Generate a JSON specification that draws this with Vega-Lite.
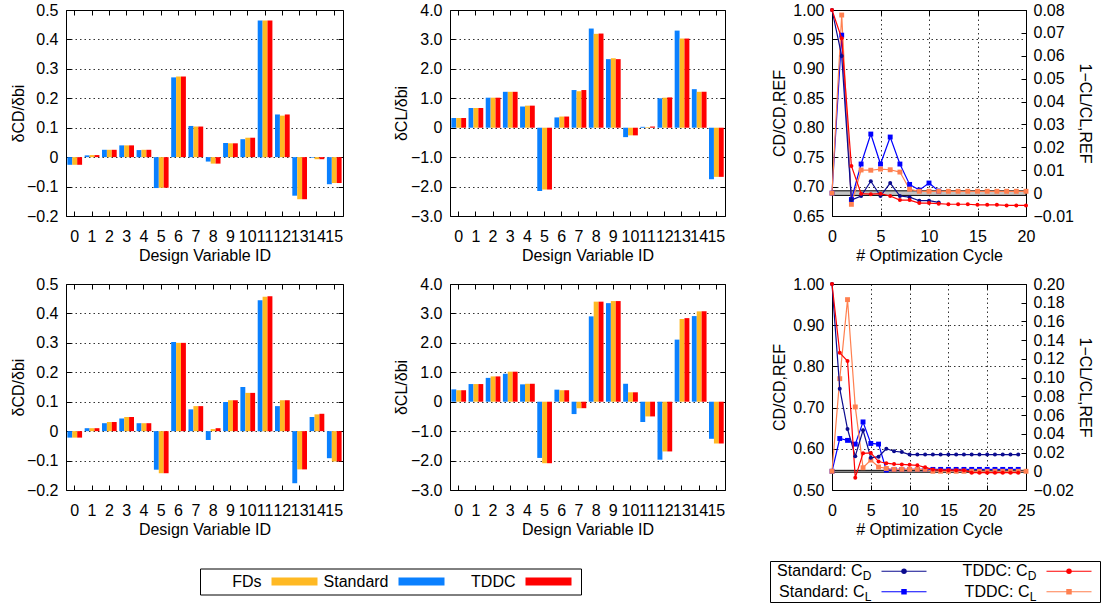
{
"$schema": "https://vega.github.io/schema/vega-lite/v6.json",
"background": "white",
"padding": {"left": 9, "top": 1, "right": 0, "bottom": 0},
"config": {
  "font": "Liberation Sans",
  "view": {"stroke": "black", "strokeWidth": 1},
  "axis": {"labelFont": "Liberation Sans", "titleFont": "Liberation Sans", "labelFontSize": 16, "titleFontSize": 16, "titleFontWeight": "normal", "labelColor": "black", "titleColor": "black", "domain": false, "tickColor": "black", "tickSize": -5, "tickWidth": 1, "grid": false, "gridColor": "black", "gridDash": [1.5, 3], "gridOpacity": 0.8, "gridWidth": 1, "labelPadding": 4, "labelOverlap": false, "labelBound": false, "labelFlush": false},
  "text": {"font": "Liberation Sans", "color": "black"}
},
"datasets": {
  "bars": [
    {"panel":"a","id":0,"method":"Standard","value":-0.026},{"panel":"a","id":0,"method":"FDs","value":-0.026},{"panel":"a","id":0,"method":"TDDC","value":-0.026},
    {"panel":"a","id":1,"method":"Standard","value":0.006},{"panel":"a","id":1,"method":"FDs","value":0.007},{"panel":"a","id":1,"method":"TDDC","value":0.007},
    {"panel":"a","id":2,"method":"Standard","value":0.025},{"panel":"a","id":2,"method":"FDs","value":0.025},{"panel":"a","id":2,"method":"TDDC","value":0.025},
    {"panel":"a","id":3,"method":"Standard","value":0.040},{"panel":"a","id":3,"method":"FDs","value":0.040},{"panel":"a","id":3,"method":"TDDC","value":0.040},
    {"panel":"a","id":4,"method":"Standard","value":0.024},{"panel":"a","id":4,"method":"FDs","value":0.025},{"panel":"a","id":4,"method":"TDDC","value":0.025},
    {"panel":"a","id":5,"method":"Standard","value":-0.105},{"panel":"a","id":5,"method":"FDs","value":-0.104},{"panel":"a","id":5,"method":"TDDC","value":-0.104},
    {"panel":"a","id":6,"method":"Standard","value":0.271},{"panel":"a","id":6,"method":"FDs","value":0.274},{"panel":"a","id":6,"method":"TDDC","value":0.274},
    {"panel":"a","id":7,"method":"Standard","value":0.106},{"panel":"a","id":7,"method":"FDs","value":0.104},{"panel":"a","id":7,"method":"TDDC","value":0.104},
    {"panel":"a","id":8,"method":"Standard","value":-0.015},{"panel":"a","id":8,"method":"FDs","value":-0.022},{"panel":"a","id":8,"method":"TDDC","value":-0.022},
    {"panel":"a","id":9,"method":"Standard","value":0.048},{"panel":"a","id":9,"method":"FDs","value":0.047},{"panel":"a","id":9,"method":"TDDC","value":0.047},
    {"panel":"a","id":10,"method":"Standard","value":0.061},{"panel":"a","id":10,"method":"FDs","value":0.066},{"panel":"a","id":10,"method":"TDDC","value":0.066},
    {"panel":"a","id":11,"method":"Standard","value":0.464},{"panel":"a","id":11,"method":"FDs","value":0.464},{"panel":"a","id":11,"method":"TDDC","value":0.464},
    {"panel":"a","id":12,"method":"Standard","value":0.145},{"panel":"a","id":12,"method":"FDs","value":0.141},{"panel":"a","id":12,"method":"TDDC","value":0.145},
    {"panel":"a","id":13,"method":"Standard","value":-0.131},{"panel":"a","id":13,"method":"FDs","value":-0.143},{"panel":"a","id":13,"method":"TDDC","value":-0.143},
    {"panel":"a","id":14,"method":"Standard","value":-0.002},{"panel":"a","id":14,"method":"FDs","value":-0.007},{"panel":"a","id":14,"method":"TDDC","value":-0.007},
    {"panel":"a","id":15,"method":"Standard","value":-0.092},{"panel":"a","id":15,"method":"FDs","value":-0.088},{"panel":"a","id":15,"method":"TDDC","value":-0.088},

    {"panel":"b","id":0,"method":"Standard","value":0.33},{"panel":"b","id":0,"method":"FDs","value":0.33},{"panel":"b","id":0,"method":"TDDC","value":0.33},
    {"panel":"b","id":1,"method":"Standard","value":0.67},{"panel":"b","id":1,"method":"FDs","value":0.67},{"panel":"b","id":1,"method":"TDDC","value":0.67},
    {"panel":"b","id":2,"method":"Standard","value":1.02},{"panel":"b","id":2,"method":"FDs","value":1.02},{"panel":"b","id":2,"method":"TDDC","value":1.02},
    {"panel":"b","id":3,"method":"Standard","value":1.22},{"panel":"b","id":3,"method":"FDs","value":1.22},{"panel":"b","id":3,"method":"TDDC","value":1.22},
    {"panel":"b","id":4,"method":"Standard","value":0.72},{"panel":"b","id":4,"method":"FDs","value":0.75},{"panel":"b","id":4,"method":"TDDC","value":0.75},
    {"panel":"b","id":5,"method":"Standard","value":-2.15},{"panel":"b","id":5,"method":"FDs","value":-2.10},{"panel":"b","id":5,"method":"TDDC","value":-2.10},
    {"panel":"b","id":6,"method":"Standard","value":0.35},{"panel":"b","id":6,"method":"FDs","value":0.38},{"panel":"b","id":6,"method":"TDDC","value":0.38},
    {"panel":"b","id":7,"method":"Standard","value":1.28},{"panel":"b","id":7,"method":"FDs","value":1.24},{"panel":"b","id":7,"method":"TDDC","value":1.28},
    {"panel":"b","id":8,"method":"Standard","value":3.37},{"panel":"b","id":8,"method":"FDs","value":3.19},{"panel":"b","id":8,"method":"TDDC","value":3.20},
    {"panel":"b","id":9,"method":"Standard","value":2.33},{"panel":"b","id":9,"method":"FDs","value":2.36},{"panel":"b","id":9,"method":"TDDC","value":2.33},
    {"panel":"b","id":10,"method":"Standard","value":-0.32},{"panel":"b","id":10,"method":"FDs","value":-0.26},{"panel":"b","id":10,"method":"TDDC","value":-0.26},
    {"panel":"b","id":11,"method":"Standard","value":0.03},{"panel":"b","id":11,"method":"FDs","value":0.02},{"panel":"b","id":11,"method":"TDDC","value":0.04},
    {"panel":"b","id":12,"method":"Standard","value":1.00},{"panel":"b","id":12,"method":"FDs","value":1.02},{"panel":"b","id":12,"method":"TDDC","value":1.03},
    {"panel":"b","id":13,"method":"Standard","value":3.30},{"panel":"b","id":13,"method":"FDs","value":3.03},{"panel":"b","id":13,"method":"TDDC","value":3.03},
    {"panel":"b","id":14,"method":"Standard","value":1.31},{"panel":"b","id":14,"method":"FDs","value":1.22},{"panel":"b","id":14,"method":"TDDC","value":1.22},
    {"panel":"b","id":15,"method":"Standard","value":-1.75},{"panel":"b","id":15,"method":"FDs","value":-1.67},{"panel":"b","id":15,"method":"TDDC","value":-1.67},

    {"panel":"c","id":0,"method":"Standard","value":-0.022},{"panel":"c","id":0,"method":"FDs","value":-0.022},{"panel":"c","id":0,"method":"TDDC","value":-0.022},
    {"panel":"c","id":1,"method":"Standard","value":0.010},{"panel":"c","id":1,"method":"FDs","value":0.010},{"panel":"c","id":1,"method":"TDDC","value":0.010},
    {"panel":"c","id":2,"method":"Standard","value":0.027},{"panel":"c","id":2,"method":"FDs","value":0.031},{"panel":"c","id":2,"method":"TDDC","value":0.031},
    {"panel":"c","id":3,"method":"Standard","value":0.043},{"panel":"c","id":3,"method":"FDs","value":0.048},{"panel":"c","id":3,"method":"TDDC","value":0.048},
    {"panel":"c","id":4,"method":"Standard","value":0.027},{"panel":"c","id":4,"method":"FDs","value":0.027},{"panel":"c","id":4,"method":"TDDC","value":0.027},
    {"panel":"c","id":5,"method":"Standard","value":-0.131},{"panel":"c","id":5,"method":"FDs","value":-0.143},{"panel":"c","id":5,"method":"TDDC","value":-0.143},
    {"panel":"c","id":6,"method":"Standard","value":0.303},{"panel":"c","id":6,"method":"FDs","value":0.300},{"panel":"c","id":6,"method":"TDDC","value":0.300},
    {"panel":"c","id":7,"method":"Standard","value":0.074},{"panel":"c","id":7,"method":"FDs","value":0.085},{"panel":"c","id":7,"method":"TDDC","value":0.085},
    {"panel":"c","id":8,"method":"Standard","value":-0.030},{"panel":"c","id":8,"method":"FDs","value":0.007},{"panel":"c","id":8,"method":"TDDC","value":0.010},
    {"panel":"c","id":9,"method":"Standard","value":0.099},{"panel":"c","id":9,"method":"FDs","value":0.105},{"panel":"c","id":9,"method":"TDDC","value":0.105},
    {"panel":"c","id":10,"method":"Standard","value":0.150},{"panel":"c","id":10,"method":"FDs","value":0.130},{"panel":"c","id":10,"method":"TDDC","value":0.130},
    {"panel":"c","id":11,"method":"Standard","value":0.445},{"panel":"c","id":11,"method":"FDs","value":0.457},{"panel":"c","id":11,"method":"TDDC","value":0.458},
    {"panel":"c","id":12,"method":"Standard","value":0.085},{"panel":"c","id":12,"method":"FDs","value":0.105},{"panel":"c","id":12,"method":"TDDC","value":0.105},
    {"panel":"c","id":13,"method":"Standard","value":-0.177},{"panel":"c","id":13,"method":"FDs","value":-0.130},{"panel":"c","id":13,"method":"TDDC","value":-0.130},
    {"panel":"c","id":14,"method":"Standard","value":0.048},{"panel":"c","id":14,"method":"FDs","value":0.057},{"panel":"c","id":14,"method":"TDDC","value":0.059},
    {"panel":"c","id":15,"method":"Standard","value":-0.092},{"panel":"c","id":15,"method":"FDs","value":-0.103},{"panel":"c","id":15,"method":"TDDC","value":-0.103},

    {"panel":"d","id":0,"method":"Standard","value":0.42},{"panel":"d","id":0,"method":"FDs","value":0.39},{"panel":"d","id":0,"method":"TDDC","value":0.39},
    {"panel":"d","id":1,"method":"Standard","value":0.60},{"panel":"d","id":1,"method":"FDs","value":0.60},{"panel":"d","id":1,"method":"TDDC","value":0.60},
    {"panel":"d","id":2,"method":"Standard","value":0.81},{"panel":"d","id":2,"method":"FDs","value":0.86},{"panel":"d","id":2,"method":"TDDC","value":0.86},
    {"panel":"d","id":3,"method":"Standard","value":0.95},{"panel":"d","id":3,"method":"FDs","value":1.02},{"panel":"d","id":3,"method":"TDDC","value":1.02},
    {"panel":"d","id":4,"method":"Standard","value":0.59},{"panel":"d","id":4,"method":"FDs","value":0.61},{"panel":"d","id":4,"method":"TDDC","value":0.61},
    {"panel":"d","id":5,"method":"Standard","value":-1.91},{"panel":"d","id":5,"method":"FDs","value":-2.09},{"panel":"d","id":5,"method":"TDDC","value":-2.09},
    {"panel":"d","id":6,"method":"Standard","value":0.41},{"panel":"d","id":6,"method":"FDs","value":0.39},{"panel":"d","id":6,"method":"TDDC","value":0.39},
    {"panel":"d","id":7,"method":"Standard","value":-0.42},{"panel":"d","id":7,"method":"FDs","value":-0.22},{"panel":"d","id":7,"method":"TDDC","value":-0.22},
    {"panel":"d","id":8,"method":"Standard","value":2.90},{"panel":"d","id":8,"method":"FDs","value":3.40},{"panel":"d","id":8,"method":"TDDC","value":3.40},
    {"panel":"d","id":9,"method":"Standard","value":3.35},{"panel":"d","id":9,"method":"FDs","value":3.42},{"panel":"d","id":9,"method":"TDDC","value":3.42},
    {"panel":"d","id":10,"method":"Standard","value":0.61},{"panel":"d","id":10,"method":"FDs","value":0.32},{"panel":"d","id":10,"method":"TDDC","value":0.32},
    {"panel":"d","id":11,"method":"Standard","value":-0.69},{"panel":"d","id":11,"method":"FDs","value":-0.50},{"panel":"d","id":11,"method":"TDDC","value":-0.50},
    {"panel":"d","id":12,"method":"Standard","value":-1.97},{"panel":"d","id":12,"method":"FDs","value":-1.69},{"panel":"d","id":12,"method":"TDDC","value":-1.69},
    {"panel":"d","id":13,"method":"Standard","value":2.11},{"panel":"d","id":13,"method":"FDs","value":2.81},{"panel":"d","id":13,"method":"TDDC","value":2.84},
    {"panel":"d","id":14,"method":"Standard","value":2.91},{"panel":"d","id":14,"method":"FDs","value":3.07},{"panel":"d","id":14,"method":"TDDC","value":3.07},
    {"panel":"d","id":15,"method":"Standard","value":-1.26},{"panel":"d","id":15,"method":"FDs","value":-1.42},{"panel":"d","id":15,"method":"TDDC","value":-1.42}
  ],
  "conv": [
    {"panel":"top","series":"Standard CD","qty":"CD","cycle":0,"value":1.000},{"panel":"top","series":"Standard CD","qty":"CD","cycle":1,"value":0.922},{"panel":"top","series":"Standard CD","qty":"CD","cycle":2,"value":0.677},{"panel":"top","series":"Standard CD","qty":"CD","cycle":3,"value":0.684},{"panel":"top","series":"Standard CD","qty":"CD","cycle":4,"value":0.709},{"panel":"top","series":"Standard CD","qty":"CD","cycle":5,"value":0.684},{"panel":"top","series":"Standard CD","qty":"CD","cycle":6,"value":0.706},{"panel":"top","series":"Standard CD","qty":"CD","cycle":7,"value":0.684},{"panel":"top","series":"Standard CD","qty":"CD","cycle":8,"value":0.682},{"panel":"top","series":"Standard CD","qty":"CD","cycle":9,"value":0.676},{"panel":"top","series":"Standard CD","qty":"CD","cycle":10,"value":0.676},{"panel":"top","series":"Standard CD","qty":"CD","cycle":11,"value":0.673},
    {"panel":"top","series":"TDDC CD","qty":"CD","cycle":0,"value":1.000},{"panel":"top","series":"TDDC CD","qty":"CD","cycle":1,"value":0.952},{"panel":"top","series":"TDDC CD","qty":"CD","cycle":2,"value":0.735},{"panel":"top","series":"TDDC CD","qty":"CD","cycle":3,"value":0.688},{"panel":"top","series":"TDDC CD","qty":"CD","cycle":4,"value":0.687},{"panel":"top","series":"TDDC CD","qty":"CD","cycle":5,"value":0.688},{"panel":"top","series":"TDDC CD","qty":"CD","cycle":6,"value":0.684},{"panel":"top","series":"TDDC CD","qty":"CD","cycle":7,"value":0.677},{"panel":"top","series":"TDDC CD","qty":"CD","cycle":8,"value":0.677},{"panel":"top","series":"TDDC CD","qty":"CD","cycle":9,"value":0.672},{"panel":"top","series":"TDDC CD","qty":"CD","cycle":10,"value":0.672},{"panel":"top","series":"TDDC CD","qty":"CD","cycle":11,"value":0.671},{"panel":"top","series":"TDDC CD","qty":"CD","cycle":12,"value":0.670},{"panel":"top","series":"TDDC CD","qty":"CD","cycle":13,"value":0.670},{"panel":"top","series":"TDDC CD","qty":"CD","cycle":14,"value":0.670},{"panel":"top","series":"TDDC CD","qty":"CD","cycle":15,"value":0.669},{"panel":"top","series":"TDDC CD","qty":"CD","cycle":16,"value":0.669},{"panel":"top","series":"TDDC CD","qty":"CD","cycle":17,"value":0.669},{"panel":"top","series":"TDDC CD","qty":"CD","cycle":18,"value":0.668},{"panel":"top","series":"TDDC CD","qty":"CD","cycle":19,"value":0.668},{"panel":"top","series":"TDDC CD","qty":"CD","cycle":20,"value":0.668},
    {"panel":"top","series":"Standard CL","qty":"CL","cycle":0,"value":0.0},{"panel":"top","series":"Standard CL","qty":"CL","cycle":1,"value":0.069},{"panel":"top","series":"Standard CL","qty":"CL","cycle":2,"value":-0.0028},{"panel":"top","series":"Standard CL","qty":"CL","cycle":3,"value":0.0127},{"panel":"top","series":"Standard CL","qty":"CL","cycle":4,"value":0.0258},{"panel":"top","series":"Standard CL","qty":"CL","cycle":5,"value":0.0127},{"panel":"top","series":"Standard CL","qty":"CL","cycle":6,"value":0.0245},{"panel":"top","series":"Standard CL","qty":"CL","cycle":7,"value":0.0127},{"panel":"top","series":"Standard CL","qty":"CL","cycle":8,"value":0.0038},{"panel":"top","series":"Standard CL","qty":"CL","cycle":9,"value":0.0013},{"panel":"top","series":"Standard CL","qty":"CL","cycle":10,"value":0.0044},{"panel":"top","series":"Standard CL","qty":"CL","cycle":11,"value":0.0009},
    {"panel":"top","series":"TDDC CL","qty":"CL","cycle":0,"value":0.0},{"panel":"top","series":"TDDC CL","qty":"CL","cycle":1,"value":0.0778},{"panel":"top","series":"TDDC CL","qty":"CL","cycle":2,"value":-0.0049},{"panel":"top","series":"TDDC CL","qty":"CL","cycle":3,"value":0.0101},{"panel":"top","series":"TDDC CL","qty":"CL","cycle":4,"value":0.0100},{"panel":"top","series":"TDDC CL","qty":"CL","cycle":5,"value":0.0105},{"panel":"top","series":"TDDC CL","qty":"CL","cycle":6,"value":0.0102},{"panel":"top","series":"TDDC CL","qty":"CL","cycle":7,"value":0.0092},{"panel":"top","series":"TDDC CL","qty":"CL","cycle":8,"value":0.0017},{"panel":"top","series":"TDDC CL","qty":"CL","cycle":9,"value":0.0008},{"panel":"top","series":"TDDC CL","qty":"CL","cycle":10,"value":0.0008},{"panel":"top","series":"TDDC CL","qty":"CL","cycle":11,"value":0.0008},{"panel":"top","series":"TDDC CL","qty":"CL","cycle":12,"value":0.0008},{"panel":"top","series":"TDDC CL","qty":"CL","cycle":13,"value":0.0008},{"panel":"top","series":"TDDC CL","qty":"CL","cycle":14,"value":0.0008},{"panel":"top","series":"TDDC CL","qty":"CL","cycle":15,"value":0.0008},{"panel":"top","series":"TDDC CL","qty":"CL","cycle":16,"value":0.0008},{"panel":"top","series":"TDDC CL","qty":"CL","cycle":17,"value":0.0008},{"panel":"top","series":"TDDC CL","qty":"CL","cycle":18,"value":0.0008},{"panel":"top","series":"TDDC CL","qty":"CL","cycle":19,"value":0.0008},{"panel":"top","series":"TDDC CL","qty":"CL","cycle":20,"value":0.0008},

    {"panel":"bottom","series":"Standard CD","qty":"CD","cycle":0,"value":1.000},{"panel":"bottom","series":"Standard CD","qty":"CD","cycle":1,"value":0.746},{"panel":"bottom","series":"Standard CD","qty":"CD","cycle":2,"value":0.648},{"panel":"bottom","series":"Standard CD","qty":"CD","cycle":3,"value":0.582},{"panel":"bottom","series":"Standard CD","qty":"CD","cycle":4,"value":0.645},{"panel":"bottom","series":"Standard CD","qty":"CD","cycle":5,"value":0.578},{"panel":"bottom","series":"Standard CD","qty":"CD","cycle":6,"value":0.581},{"panel":"bottom","series":"Standard CD","qty":"CD","cycle":7,"value":0.600},{"panel":"bottom","series":"Standard CD","qty":"CD","cycle":8,"value":0.594},{"panel":"bottom","series":"Standard CD","qty":"CD","cycle":9,"value":0.592},{"panel":"bottom","series":"Standard CD","qty":"CD","cycle":10,"value":0.586},{"panel":"bottom","series":"Standard CD","qty":"CD","cycle":11,"value":0.586},{"panel":"bottom","series":"Standard CD","qty":"CD","cycle":12,"value":0.586},{"panel":"bottom","series":"Standard CD","qty":"CD","cycle":13,"value":0.586},{"panel":"bottom","series":"Standard CD","qty":"CD","cycle":14,"value":0.586},{"panel":"bottom","series":"Standard CD","qty":"CD","cycle":15,"value":0.586},{"panel":"bottom","series":"Standard CD","qty":"CD","cycle":16,"value":0.586},{"panel":"bottom","series":"Standard CD","qty":"CD","cycle":17,"value":0.586},{"panel":"bottom","series":"Standard CD","qty":"CD","cycle":18,"value":0.586},{"panel":"bottom","series":"Standard CD","qty":"CD","cycle":19,"value":0.586},{"panel":"bottom","series":"Standard CD","qty":"CD","cycle":20,"value":0.586},{"panel":"bottom","series":"Standard CD","qty":"CD","cycle":21,"value":0.586},{"panel":"bottom","series":"Standard CD","qty":"CD","cycle":22,"value":0.586},{"panel":"bottom","series":"Standard CD","qty":"CD","cycle":23,"value":0.586},{"panel":"bottom","series":"Standard CD","qty":"CD","cycle":24,"value":0.586},
    {"panel":"bottom","series":"TDDC CD","qty":"CD","cycle":0,"value":1.000},{"panel":"bottom","series":"TDDC CD","qty":"CD","cycle":1,"value":0.833},{"panel":"bottom","series":"TDDC CD","qty":"CD","cycle":2,"value":0.813},{"panel":"bottom","series":"TDDC CD","qty":"CD","cycle":3,"value":0.530},{"panel":"bottom","series":"TDDC CD","qty":"CD","cycle":4,"value":0.589},{"panel":"bottom","series":"TDDC CD","qty":"CD","cycle":5,"value":0.590},{"panel":"bottom","series":"TDDC CD","qty":"CD","cycle":6,"value":0.569},{"panel":"bottom","series":"TDDC CD","qty":"CD","cycle":7,"value":0.565},{"panel":"bottom","series":"TDDC CD","qty":"CD","cycle":8,"value":0.563},{"panel":"bottom","series":"TDDC CD","qty":"CD","cycle":9,"value":0.562},{"panel":"bottom","series":"TDDC CD","qty":"CD","cycle":10,"value":0.561},{"panel":"bottom","series":"TDDC CD","qty":"CD","cycle":11,"value":0.560},{"panel":"bottom","series":"TDDC CD","qty":"CD","cycle":12,"value":0.555},{"panel":"bottom","series":"TDDC CD","qty":"CD","cycle":13,"value":0.550},{"panel":"bottom","series":"TDDC CD","qty":"CD","cycle":14,"value":0.548},{"panel":"bottom","series":"TDDC CD","qty":"CD","cycle":15,"value":0.548},{"panel":"bottom","series":"TDDC CD","qty":"CD","cycle":16,"value":0.548},{"panel":"bottom","series":"TDDC CD","qty":"CD","cycle":17,"value":0.548},{"panel":"bottom","series":"TDDC CD","qty":"CD","cycle":18,"value":0.542},{"panel":"bottom","series":"TDDC CD","qty":"CD","cycle":19,"value":0.542},{"panel":"bottom","series":"TDDC CD","qty":"CD","cycle":20,"value":0.542},{"panel":"bottom","series":"TDDC CD","qty":"CD","cycle":21,"value":0.542},{"panel":"bottom","series":"TDDC CD","qty":"CD","cycle":22,"value":0.542},{"panel":"bottom","series":"TDDC CD","qty":"CD","cycle":23,"value":0.542},{"panel":"bottom","series":"TDDC CD","qty":"CD","cycle":24,"value":0.542},
    {"panel":"bottom","series":"Standard CL","qty":"CL","cycle":0,"value":0.0},{"panel":"bottom","series":"Standard CL","qty":"CL","cycle":1,"value":0.035},{"panel":"bottom","series":"Standard CL","qty":"CL","cycle":2,"value":0.033},{"panel":"bottom","series":"Standard CL","qty":"CL","cycle":3,"value":0.029},{"panel":"bottom","series":"Standard CL","qty":"CL","cycle":4,"value":0.0527},{"panel":"bottom","series":"Standard CL","qty":"CL","cycle":5,"value":0.0297},{"panel":"bottom","series":"Standard CL","qty":"CL","cycle":6,"value":0.029},{"panel":"bottom","series":"Standard CL","qty":"CL","cycle":7,"value":0.0013},{"panel":"bottom","series":"Standard CL","qty":"CL","cycle":8,"value":0.002},{"panel":"bottom","series":"Standard CL","qty":"CL","cycle":9,"value":0.002},{"panel":"bottom","series":"Standard CL","qty":"CL","cycle":10,"value":0.002},{"panel":"bottom","series":"Standard CL","qty":"CL","cycle":11,"value":0.002},{"panel":"bottom","series":"Standard CL","qty":"CL","cycle":12,"value":0.002},{"panel":"bottom","series":"Standard CL","qty":"CL","cycle":13,"value":0.002},{"panel":"bottom","series":"Standard CL","qty":"CL","cycle":14,"value":0.002},{"panel":"bottom","series":"Standard CL","qty":"CL","cycle":15,"value":0.002},{"panel":"bottom","series":"Standard CL","qty":"CL","cycle":16,"value":0.002},{"panel":"bottom","series":"Standard CL","qty":"CL","cycle":17,"value":0.002},{"panel":"bottom","series":"Standard CL","qty":"CL","cycle":18,"value":0.002},{"panel":"bottom","series":"Standard CL","qty":"CL","cycle":19,"value":0.002},{"panel":"bottom","series":"Standard CL","qty":"CL","cycle":20,"value":0.002},{"panel":"bottom","series":"Standard CL","qty":"CL","cycle":21,"value":0.002},{"panel":"bottom","series":"Standard CL","qty":"CL","cycle":22,"value":0.002},{"panel":"bottom","series":"Standard CL","qty":"CL","cycle":23,"value":0.002},{"panel":"bottom","series":"Standard CL","qty":"CL","cycle":24,"value":0.002},
    {"panel":"bottom","series":"TDDC CL","qty":"CL","cycle":0,"value":0.0},{"panel":"bottom","series":"TDDC CL","qty":"CL","cycle":1,"value":0.0989},{"panel":"bottom","series":"TDDC CL","qty":"CL","cycle":2,"value":0.1833},{"panel":"bottom","series":"TDDC CL","qty":"CL","cycle":3,"value":0.0687},{"panel":"bottom","series":"TDDC CL","qty":"CL","cycle":4,"value":0.0038},{"panel":"bottom","series":"TDDC CL","qty":"CL","cycle":5,"value":0.012},{"panel":"bottom","series":"TDDC CL","qty":"CL","cycle":6,"value":0.0045},{"panel":"bottom","series":"TDDC CL","qty":"CL","cycle":7,"value":0.003},{"panel":"bottom","series":"TDDC CL","qty":"CL","cycle":8,"value":0.002},{"panel":"bottom","series":"TDDC CL","qty":"CL","cycle":9,"value":0.002},{"panel":"bottom","series":"TDDC CL","qty":"CL","cycle":10,"value":0.002},{"panel":"bottom","series":"TDDC CL","qty":"CL","cycle":11,"value":0.002},{"panel":"bottom","series":"TDDC CL","qty":"CL","cycle":12,"value":0.002},{"panel":"bottom","series":"TDDC CL","qty":"CL","cycle":13,"value":0.0},{"panel":"bottom","series":"TDDC CL","qty":"CL","cycle":14,"value":0.0},{"panel":"bottom","series":"TDDC CL","qty":"CL","cycle":15,"value":0.0},{"panel":"bottom","series":"TDDC CL","qty":"CL","cycle":16,"value":0.0},{"panel":"bottom","series":"TDDC CL","qty":"CL","cycle":17,"value":0.0},{"panel":"bottom","series":"TDDC CL","qty":"CL","cycle":18,"value":0.0},{"panel":"bottom","series":"TDDC CL","qty":"CL","cycle":19,"value":0.0},{"panel":"bottom","series":"TDDC CL","qty":"CL","cycle":20,"value":0.0},{"panel":"bottom","series":"TDDC CL","qty":"CL","cycle":21,"value":0.0},{"panel":"bottom","series":"TDDC CL","qty":"CL","cycle":22,"value":0.0},{"panel":"bottom","series":"TDDC CL","qty":"CL","cycle":23,"value":0.0},{"panel":"bottom","series":"TDDC CL","qty":"CL","cycle":24,"value":0.0},{"panel":"bottom","series":"TDDC CL","qty":"CL","cycle":25,"value":0.0}
  ],
  "bandtop": [{"value": -0.001, "value2": 0.001, "cycle": 0, "cycle2": 20}],
  "bandbottom": [{"value": -0.001, "value2": 0.001, "cycle": 0, "cycle2": 25}],
  "legend1": [{"method": "FDs"}, {"method": "Standard"}, {"method": "TDDC"}],
  "legend2": [
    {"run": "Standard", "qty": "CD", "series": "Standard CD", "label": "Standard: C", "sub": "D"},
    {"run": "Standard", "qty": "CL", "series": "Standard CL", "label": "Standard: C", "sub": "L"},
    {"run": "TDDC", "qty": "CD", "series": "TDDC CD", "label": "TDDC: C", "sub": "D"},
    {"run": "TDDC", "qty": "CL", "series": "TDDC CL", "label": "TDDC: C", "sub": "L"}
  ],
  "blank": [{"k": 0}]
},
"spacing": 11,
"resolve": {"scale": {"color": "independent", "shape": "independent"}},
"vconcat": [
  {"hconcat": [
    {"width": 277, "height": 206, "data": {"name": "bars"}, "transform": [{"filter": "datum.panel === 'a'"}],
     "layer": [
      {"mark": {"type": "bar"}, "encoding": {
        "x": {"field": "id", "type": "ordinal", "scale": {"paddingInner": 0.15, "paddingOuter": 0.08}, "axis": {"orient": "bottom", "title": "Design Variable ID", "labelAngle": 0, "labelPadding": 17, "titlePadding": 3}},
        "xOffset": {"field": "method", "type": "nominal", "sort": ["Standard", "FDs", "TDDC"], "scale": {"paddingInner": 0, "paddingOuter": 0}},
        "y": {"field": "value", "type": "quantitative", "stack": null, "scale": {"domain": [-0.2, 0.5], "nice": false}, "axis": {"orient": "left", "values": [-0.2, -0.1, 0, 0.1, 0.2, 0.3, 0.4, 0.5], "grid": true, "title": "δCD/δbi", "labelExpr": "datum.value === 0 ? '0' : format(datum.value, '.1f')", "labelPadding": 13, "titlePadding": 0}},
        "color": {"field": "method", "type": "nominal", "scale": {"domain": ["FDs", "Standard", "TDDC"], "range": ["#ffb923", "#0a80ff", "#ff0000"]}, "legend": null}}},
      {"mark": {"type": "bar", "opacity": 0}, "encoding": {
        "x": {"field": "id", "type": "ordinal", "axis": {"orient": "top", "labels": false, "title": null}},
        "y": {"field": "value", "type": "quantitative", "stack": null, "axis": {"orient": "right", "labels": false, "title": null, "values": [-0.2, -0.1, 0, 0.1, 0.2, 0.3, 0.4, 0.5]}}}}
     ]},
    {"width": 275, "height": 206, "data": {"name": "bars"}, "transform": [{"filter": "datum.panel === 'b'"}],
     "layer": [
      {"mark": {"type": "bar"}, "encoding": {
        "x": {"field": "id", "type": "ordinal", "scale": {"paddingInner": 0.15, "paddingOuter": 0.08}, "axis": {"orient": "bottom", "title": "Design Variable ID", "labelAngle": 0, "labelPadding": 17, "titlePadding": 3}},
        "xOffset": {"field": "method", "type": "nominal", "sort": ["Standard", "FDs", "TDDC"], "scale": {"paddingInner": 0, "paddingOuter": 0}},
        "y": {"field": "value", "type": "quantitative", "stack": null, "scale": {"domain": [-3, 4], "nice": false}, "axis": {"orient": "left", "values": [-3, -2, -1, 0, 1, 2, 3, 4], "grid": true, "title": "δCL/δbi", "labelExpr": "datum.value === 0 ? '0' : format(datum.value, '.1f')", "labelPadding": 13, "titlePadding": 1}},
        "color": {"field": "method", "type": "nominal", "scale": {"domain": ["FDs", "Standard", "TDDC"], "range": ["#ffb923", "#0a80ff", "#ff0000"]}, "legend": null}}},
      {"mark": {"type": "bar", "opacity": 0}, "encoding": {
        "x": {"field": "id", "type": "ordinal", "axis": {"orient": "top", "labels": false, "title": null}},
        "y": {"field": "value", "type": "quantitative", "stack": null, "axis": {"orient": "right", "labels": false, "title": null, "values": [-3, -2, -1, 0, 1, 2, 3, 4]}}}}
     ]},
    {"width": 194, "height": 206,
     "layer": [
      {"encoding": {"y": {"field": "value", "type": "quantitative", "scale": {"domain": [-0.01, 0.08], "nice": false, "zero": false}, "axis": {"orient": "right", "title": "1−CL/CL,REF", "values": [-0.01, 0, 0.01, 0.02, 0.03, 0.04, 0.05, 0.06, 0.07, 0.08], "labelExpr": "datum.value === 0 ? '0' : format(datum.value, '.2f')", "labelPadding": 12, "titlePadding": 3}}},
       "layer": [
        {"data": {"name": "bandtop"}, "mark": {"type": "rect", "fill": "#c4c4c4", "stroke": "black", "strokeWidth": 1}, "encoding": {"x": {"field": "cycle", "type": "quantitative"}, "x2": {"field": "cycle2"}, "y2": {"field": "value2"}}},
        {"data": {"name": "conv"}, "transform": [{"filter": "datum.panel === 'top' && datum.qty === 'CL'"}], "mark": {"type": "line", "strokeWidth": 1.2},
         "encoding": {"x": {"field": "cycle", "type": "quantitative", "scale": {"domain": [0, 20], "nice": false}, "axis": {"orient": "top", "values": [0, 5, 10, 15, 20], "labels": false, "title": null}},
                      "color": {"field": "series", "type": "nominal", "scale": {"domain": ["Standard CD", "Standard CL", "TDDC CD", "TDDC CL"], "range": ["#0b0b8f", "#0000ff", "#ff0000", "#ff8050"]}, "legend": null}}},
        {"data": {"name": "conv"}, "transform": [{"filter": "datum.panel === 'top' && datum.qty === 'CL'"}], "mark": {"type": "point", "shape": "square", "filled": true, "size": 24, "opacity": 1},
         "encoding": {"x": {"field": "cycle", "type": "quantitative", "axis": {"orient": "top", "values": [0, 5, 10, 15, 20], "labels": false, "title": null}},
                      "color": {"field": "series", "type": "nominal", "scale": {"domain": ["Standard CD", "Standard CL", "TDDC CD", "TDDC CL"], "range": ["#0b0b8f", "#0000ff", "#ff0000", "#ff8050"]}, "legend": null}}}
       ]},
      {"data": {"name": "conv"}, "transform": [{"filter": "datum.panel === 'top' && datum.qty === 'CD'"}],
       "encoding": {
         "x": {"field": "cycle", "type": "quantitative", "scale": {"domain": [0, 20], "nice": false}, "axis": {"orient": "bottom", "values": [0, 5, 10, 15, 20], "grid": true, "title": "# Optimization Cycle", "format": "d", "labelPadding": 17, "titlePadding": 3}},
         "y": {"field": "value", "type": "quantitative", "scale": {"domain": [0.65, 1.0], "nice": false, "zero": false}, "axis": {"orient": "left", "title": "CD/CD,REF", "values": [0.65, 0.7, 0.75, 0.8, 0.85, 0.9, 0.95, 1.0], "format": ".2f", "grid": true, "labelPadding": 13, "titlePadding": 5}},
         "color": {"field": "series", "type": "nominal", "scale": {"domain": ["Standard CD", "Standard CL", "TDDC CD", "TDDC CL"], "range": ["#0b0b8f", "#0000ff", "#ff0000", "#ff8050"]}, "legend": null}},
       "layer": [
        {"mark": {"type": "line", "strokeWidth": 1.2}},
        {"mark": {"type": "point", "shape": "circle", "filled": true, "size": 16, "opacity": 1}}
       ]}
     ],
     "resolve": {"scale": {"y": "independent"}}}
  ], "spacing": 107, "bounds": "flush", "resolve": {"scale": {"color": "independent"}}},
  {"hconcat": [
    {"width": 277, "height": 206, "data": {"name": "bars"}, "transform": [{"filter": "datum.panel === 'c'"}],
     "layer": [
      {"mark": {"type": "bar"}, "encoding": {
        "x": {"field": "id", "type": "ordinal", "scale": {"paddingInner": 0.15, "paddingOuter": 0.08}, "axis": {"orient": "bottom", "title": "Design Variable ID", "labelAngle": 0, "labelPadding": 17, "titlePadding": 3}},
        "xOffset": {"field": "method", "type": "nominal", "sort": ["Standard", "FDs", "TDDC"], "scale": {"paddingInner": 0, "paddingOuter": 0}},
        "y": {"field": "value", "type": "quantitative", "stack": null, "scale": {"domain": [-0.2, 0.5], "nice": false}, "axis": {"orient": "left", "values": [-0.2, -0.1, 0, 0.1, 0.2, 0.3, 0.4, 0.5], "grid": true, "title": "δCD/δbi", "labelExpr": "datum.value === 0 ? '0' : format(datum.value, '.1f')", "labelPadding": 13, "titlePadding": 0}},
        "color": {"field": "method", "type": "nominal", "scale": {"domain": ["FDs", "Standard", "TDDC"], "range": ["#ffb923", "#0a80ff", "#ff0000"]}, "legend": null}}},
      {"mark": {"type": "bar", "opacity": 0}, "encoding": {
        "x": {"field": "id", "type": "ordinal", "axis": {"orient": "top", "labels": false, "title": null}},
        "y": {"field": "value", "type": "quantitative", "stack": null, "axis": {"orient": "right", "labels": false, "title": null, "values": [-0.2, -0.1, 0, 0.1, 0.2, 0.3, 0.4, 0.5]}}}}
     ]},
    {"width": 275, "height": 206, "data": {"name": "bars"}, "transform": [{"filter": "datum.panel === 'd'"}],
     "layer": [
      {"mark": {"type": "bar"}, "encoding": {
        "x": {"field": "id", "type": "ordinal", "scale": {"paddingInner": 0.15, "paddingOuter": 0.08}, "axis": {"orient": "bottom", "title": "Design Variable ID", "labelAngle": 0, "labelPadding": 17, "titlePadding": 3}},
        "xOffset": {"field": "method", "type": "nominal", "sort": ["Standard", "FDs", "TDDC"], "scale": {"paddingInner": 0, "paddingOuter": 0}},
        "y": {"field": "value", "type": "quantitative", "stack": null, "scale": {"domain": [-3, 4], "nice": false}, "axis": {"orient": "left", "values": [-3, -2, -1, 0, 1, 2, 3, 4], "grid": true, "title": "δCL/δbi", "labelExpr": "datum.value === 0 ? '0' : format(datum.value, '.1f')", "labelPadding": 13, "titlePadding": 1}},
        "color": {"field": "method", "type": "nominal", "scale": {"domain": ["FDs", "Standard", "TDDC"], "range": ["#ffb923", "#0a80ff", "#ff0000"]}, "legend": null}}},
      {"mark": {"type": "bar", "opacity": 0}, "encoding": {
        "x": {"field": "id", "type": "ordinal", "axis": {"orient": "top", "labels": false, "title": null}},
        "y": {"field": "value", "type": "quantitative", "stack": null, "axis": {"orient": "right", "labels": false, "title": null, "values": [-3, -2, -1, 0, 1, 2, 3, 4]}}}}
     ]},
    {"width": 194, "height": 206,
     "layer": [
      {"encoding": {"y": {"field": "value", "type": "quantitative", "scale": {"domain": [-0.02, 0.2], "nice": false, "zero": false}, "axis": {"orient": "right", "title": "1−CL/CL,REF", "values": [-0.02, 0, 0.02, 0.04, 0.06, 0.08, 0.1, 0.12, 0.14, 0.16, 0.18, 0.2], "labelExpr": "datum.value === 0 ? '0' : format(datum.value, '.2f')", "labelPadding": 12, "titlePadding": 3}}},
       "layer": [
        {"data": {"name": "bandbottom"}, "mark": {"type": "rect", "fill": "#c4c4c4", "stroke": "black", "strokeWidth": 1}, "encoding": {"x": {"field": "cycle", "type": "quantitative"}, "x2": {"field": "cycle2"}, "y2": {"field": "value2"}}},
        {"data": {"name": "conv"}, "transform": [{"filter": "datum.panel === 'bottom' && datum.qty === 'CL'"}], "mark": {"type": "line", "strokeWidth": 1.2},
         "encoding": {"x": {"field": "cycle", "type": "quantitative", "scale": {"domain": [0, 25], "nice": false}, "axis": {"orient": "top", "values": [0, 5, 10, 15, 20, 25], "labels": false, "title": null}},
                      "color": {"field": "series", "type": "nominal", "scale": {"domain": ["Standard CD", "Standard CL", "TDDC CD", "TDDC CL"], "range": ["#0b0b8f", "#0000ff", "#ff0000", "#ff8050"]}, "legend": null}}},
        {"data": {"name": "conv"}, "transform": [{"filter": "datum.panel === 'bottom' && datum.qty === 'CL'"}], "mark": {"type": "point", "shape": "square", "filled": true, "size": 24, "opacity": 1},
         "encoding": {"x": {"field": "cycle", "type": "quantitative", "axis": {"orient": "top", "values": [0, 5, 10, 15, 20, 25], "labels": false, "title": null}},
                      "color": {"field": "series", "type": "nominal", "scale": {"domain": ["Standard CD", "Standard CL", "TDDC CD", "TDDC CL"], "range": ["#0b0b8f", "#0000ff", "#ff0000", "#ff8050"]}, "legend": null}}}
       ]},
      {"data": {"name": "conv"}, "transform": [{"filter": "datum.panel === 'bottom' && datum.qty === 'CD'"}],
       "encoding": {
         "x": {"field": "cycle", "type": "quantitative", "scale": {"domain": [0, 25], "nice": false}, "axis": {"orient": "bottom", "values": [0, 5, 10, 15, 20, 25], "grid": true, "title": "# Optimization Cycle", "format": "d", "labelPadding": 17, "titlePadding": 3}},
         "y": {"field": "value", "type": "quantitative", "scale": {"domain": [0.5, 1.0], "nice": false, "zero": false}, "axis": {"orient": "left", "title": "CD/CD,REF", "values": [0.5, 0.6, 0.7, 0.8, 0.9, 1.0], "format": ".2f", "grid": true, "labelPadding": 13, "titlePadding": 5}},
         "color": {"field": "series", "type": "nominal", "scale": {"domain": ["Standard CD", "Standard CL", "TDDC CD", "TDDC CL"], "range": ["#0b0b8f", "#0000ff", "#ff0000", "#ff8050"]}, "legend": null}},
       "layer": [
        {"mark": {"type": "line", "strokeWidth": 1.2}},
        {"mark": {"type": "point", "shape": "circle", "filled": true, "size": 16, "opacity": 1}}
       ]}
     ],
     "resolve": {"scale": {"y": "independent"}}}
  ], "spacing": 107, "bounds": "flush", "resolve": {"scale": {"color": "independent"}}},
  {"hconcat": [
    {"width": 134, "height": 65, "data": {"name": "blank"}, "mark": {"type": "point", "opacity": 0}, "view": {"stroke": null}},
    {"width": 381, "height": 26, "data": {"name": "legend1"},
     "encoding": {"x": {"field": "method", "type": "nominal", "sort": ["FDs", "Standard", "TDDC"], "scale": {"paddingInner": 0, "paddingOuter": 0}, "axis": null}},
     "layer": [
       {"mark": {"type": "text", "align": "right", "baseline": "middle", "dx": -2, "fontSize": 16}, "encoding": {"text": {"field": "method"}}},
       {"mark": {"type": "point", "shape": "M-1,-0.174H1V0.174H-1Z", "filled": true, "size": 2116, "opacity": 1, "xOffset": 31, "strokeWidth": 0},
        "encoding": {"color": {"field": "method", "type": "nominal", "scale": {"domain": ["FDs", "Standard", "TDDC"], "range": ["#ffb923", "#0a80ff", "#ff0000"]}, "legend": null}}}
     ]},
    {"width": 189, "height": 65, "data": {"name": "blank"}, "mark": {"type": "point", "opacity": 0}, "view": {"stroke": null}},
    {"width": 330, "height": 41, "data": {"name": "legend2"},
     "encoding": {
       "x": {"field": "run", "type": "nominal", "sort": ["Standard", "TDDC"], "scale": {"paddingInner": 0, "paddingOuter": 0}, "axis": null},
       "y": {"field": "qty", "type": "nominal", "sort": ["CD", "CL"], "scale": {"paddingInner": 0, "paddingOuter": 0.3}, "axis": null}},
     "layer": [
       {"transform": [{"filter": "datum.qty === 'CD'"}], "mark": {"type": "text", "align": "right", "baseline": "middle", "dx": 10, "fontSize": 16}, "encoding": {"text": {"field": "label"}}},
       {"transform": [{"filter": "datum.qty === 'CL'"}], "mark": {"type": "text", "align": "right", "baseline": "middle", "dx": 12, "fontSize": 16}, "encoding": {"text": {"field": "label"}}},
       {"mark": {"type": "text", "align": "right", "baseline": "middle", "dx": 19, "dy": 5, "fontSize": 12}, "encoding": {"text": {"field": "sub"}}},
       {"mark": {"type": "point", "shape": "M-1,0H1", "filled": false, "size": 2025, "strokeWidth": 1.2, "opacity": 1, "xOffset": 51.5},
        "encoding": {"color": {"field": "series", "type": "nominal", "scale": {"domain": ["Standard CD", "Standard CL", "TDDC CD", "TDDC CL"], "range": ["#0b0b8f", "#0000ff", "#ff0000", "#ff8050"]}, "legend": null}}},
       {"mark": {"type": "point", "filled": true, "opacity": 1, "xOffset": 51.5, "size": 30},
        "encoding": {"color": {"field": "series", "type": "nominal", "scale": {"domain": ["Standard CD", "Standard CL", "TDDC CD", "TDDC CL"], "range": ["#0b0b8f", "#0000ff", "#ff0000", "#ff8050"]}, "legend": null},
                     "shape": {"field": "qty", "type": "nominal", "scale": {"domain": ["CD", "CL"], "range": ["circle", "square"]}, "legend": null}}}
     ],
     "resolve": {"scale": {"color": "independent", "shape": "independent"}}}
  ], "spacing": 0, "bounds": "flush", "center": true, "resolve": {"scale": {"color": "independent", "shape": "independent"}}}
]
}
